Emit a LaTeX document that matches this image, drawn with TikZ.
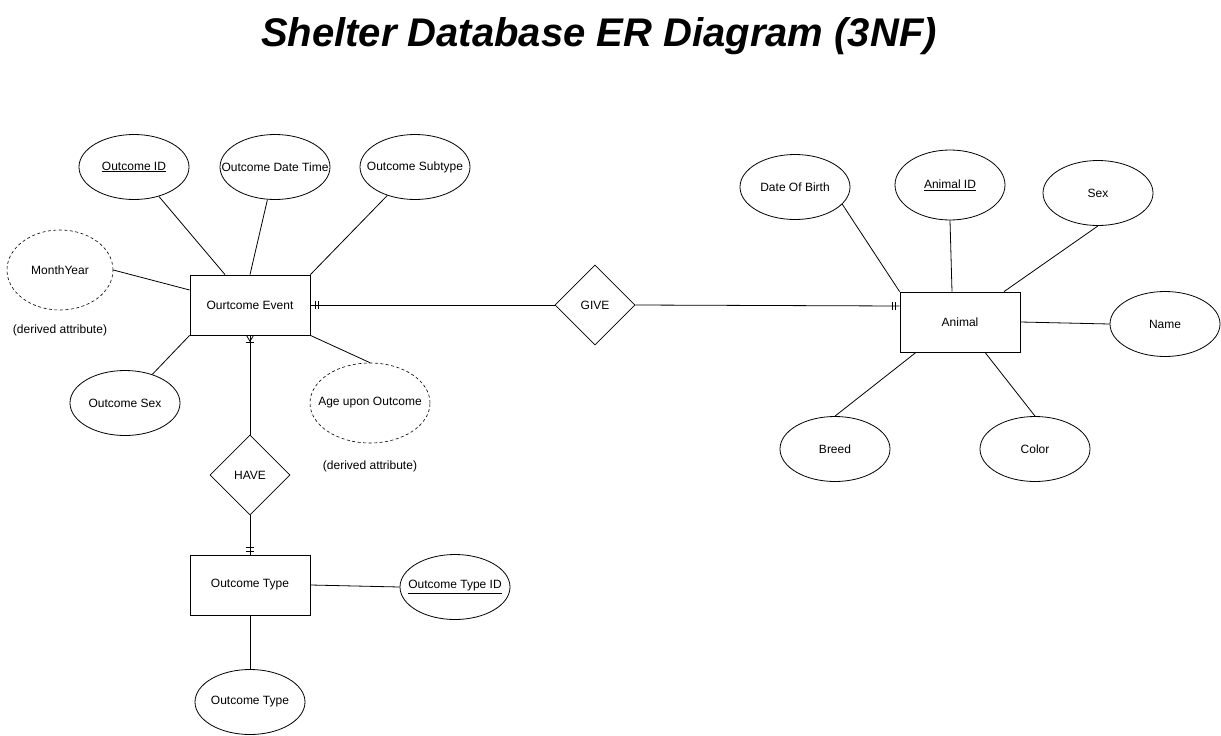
\documentclass[tikz,border=0pt]{standalone}
\usepackage{fontspec}
\setmainfont{Liberation Sans}
\usetikzlibrary{shapes.geometric}

\tikzset{
  entity/.style = {draw, minimum width=120pt, minimum height=60pt, inner sep=0pt},
  attrib/.style = {draw, ellipse, minimum width=110pt, minimum height=65pt,
    inner xsep=-20pt, inner ysep=0pt},
  derived/.style = {attrib, dash pattern=on 3pt off 2.5pt, line width=0.6pt},
  relation/.style = {draw, diamond, minimum width=80pt, minimum height=80pt, inner sep=0pt},
  note/.style = {inner sep=0pt}
}

\begin{document}
\begin{tikzpicture}[x=1pt,y=-1pt,line width=0.8pt,font=\fontsize{12}{14}\selectfont]
  \useasboundingbox (0,0) rectangle (1221,736);

  % Title
  \node [anchor=base,font=\fontsize{40}{48}\selectfont\bfseries\itshape] (title) at (599,46)
    {Shelter Database ER Diagram (3NF)};

  % Outcome event and its attributes
  \node [entity] (oe) at (250,305) {Ourtcome Event};
  \node [attrib] (oid) at (134,167) {\underline{Outcome ID}};
  \node [attrib] (odt) at (275,167) {Outcome Date Time};
  \node [attrib] (osub) at (415,167) {Outcome Subtype};
  \node [derived,minimum width=106pt,minimum height=80pt] (my) at (60,270) {MonthYear};
  \node [note] (myn) at (60,330) {(derived attribute)};
  \node [attrib] (osex) at (125,403) {Outcome Sex};
  \node [derived,minimum width=120pt,minimum height=80pt] (age) at (370,403) {Age upon Outcome};
  \node [note] (agen) at (370,466) {(derived attribute)};

  \draw (oid) -- ([xshift=-25pt]oe.north);
  \draw (odt) -- (oe.north);
  \draw (osub) -- (oe.north east);
  \draw (my.east) -- ([yshift=15pt]oe.west);
  \draw (osex) -- (oe.south west);
  \draw (age.north) -- (oe.south east);

  % Relationships
  \node [relation] (give) at (595,305) {GIVE};
  \node [relation] (have) at (250,475) {HAVE};

  % Animal and its attributes
  \node [entity] (an) at (960,322) {Animal};
  \node [attrib] (dob) at (795,187) {Date Of Birth};
  \node [attrib,minimum height=70pt] (aid) at (950,185) {\underline{Animal ID}};
  \node [attrib] (sex) at (1098,193) {Sex};
  \node [attrib] (name) at (1165,324) {Name};
  \node [attrib] (breed) at (835,449) {Breed};
  \node [attrib] (color) at (1035,449) {Color};

  \draw (dob.-20) -- (an.north west);
  \draw (aid.south) -- ([xshift=-8pt]an.north);
  \draw (sex.south) -- ([xshift=44pt]an.north);
  \draw (name.west) -- (an.east);
  \draw (breed.north) -- ([xshift=-44pt]an.south);
  \draw (color.north) -- ([xshift=25pt]an.south);

  % Outcome type and its attributes
  \node [entity] (ot) at (250,585) {Outcome Type};
  \node [attrib] (otid) at (455,587) {\underline{Outcome Type ID}};
  \node [attrib] (otn) at (250,702) {Outcome Type};

  \draw (ot.east) -- (otid.west);
  \draw (ot.south) -- (otn.north);

  % Relationship lines with cardinality marks
  \draw (oe.east) -- (give.west);
  \draw ([xshift=5pt,yshift=4pt]oe.east) -- ++(0pt,-8pt);
  \draw ([xshift=8pt,yshift=4pt]oe.east) -- ++(0pt,-8pt);

  \draw (give.east) -- ([yshift=16pt]an.west);
  \draw ([xshift=-7pt,yshift=20pt]an.west) -- ++(0pt,-8pt);
  \draw ([xshift=-4pt,yshift=20pt]an.west) -- ++(0pt,-8pt);

  \draw (oe.south) -- (have.north);
  \draw ([xshift=-3.5pt]oe.south) -- ([yshift=-6pt]oe.south) -- ([xshift=3.5pt]oe.south);
  \draw ([xshift=-4pt,yshift=-7pt]oe.south) -- ++(8pt,0pt);

  \draw (have.south) -- (ot.north);
  \draw ([xshift=-4pt,yshift=7pt]ot.north) -- ++(8pt,0pt);
  \draw ([xshift=-4pt,yshift=3.5pt]ot.north) -- ++(8pt,0pt);

\end{tikzpicture}
\end{document}
